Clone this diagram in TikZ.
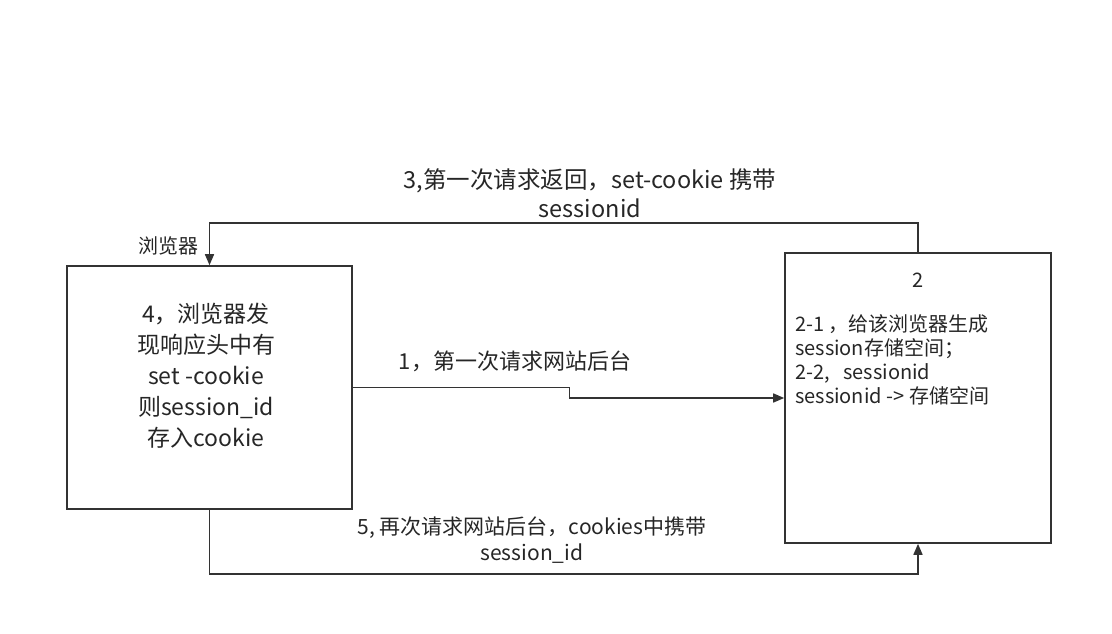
\documentclass[tikz,border=0pt]{standalone}
\usepackage{fontspec}
\setmainfont{Noto Sans CJK SC}
\usetikzlibrary{arrows.meta}
\begin{document}
\begin{tikzpicture}
  [x=1pt, y=-1pt,
   box/.style={draw=black!80, line width=1.6pt, inner sep=0pt},
   link/.style={-{Stealth[length=11pt, width=9pt, inset=0pt]}, draw=black!80, line width=1.6pt},
   lbl/.style={align=center, text=black!85, inner sep=0pt}]
  \useasboundingbox (0,0) rectangle (1112,634);

  \node[box, minimum width=285pt, minimum height=243pt] (browser) at (209.5,387.5) {};
  \node[box, minimum width=266pt, minimum height=290pt] (server) at (918,398) {};

  \node[lbl, font=\fontsize{23}{31}\selectfont] (browsertext) at (206,376)
    {4，浏览器发\\现响应头中有\\set -cookie\\则session\_id\\存入cookie};
  \node[lbl, font=\fontsize{20}{24}\selectfont] (servertitle) at (918,280) {2};
  \node[lbl, align=left, anchor=west, font=\fontsize{20}{24}\selectfont] (servertext) at (795,360)
    {2-1 ，给该浏览器生成\\session存储空间；\\2-2,\ \ \ sessionid\\sessionid -> 存储空间};
  \node[lbl, font=\fontsize{20}{20}\selectfont] (browserlabel) at (168,246) {浏览器};

  \draw[link] (server.north) -- ++(0,-29) -| (browser.north);
  \draw[link] (browser.east) -- ++(216.5,0) |- (server.west);
  \draw[link] (browser.south) -- ++(0,64) -| (server.south);

  \node[lbl, font=\fontsize{23.5}{29}\selectfont] (step3) at (590,193)
    {3,第一次请求返回，set-cookie 携带\\sessionid};
  \node[lbl, font=\fontsize{22}{29}\selectfont] (step1) at (515,361) {1，第一次请求网站后台};
  \node[lbl, font=\fontsize{21}{26}\selectfont] (step5) at (532,540)
    {5, 再次请求网站后台，cookies中携带\\session\_id};
\end{tikzpicture}
\end{document}
